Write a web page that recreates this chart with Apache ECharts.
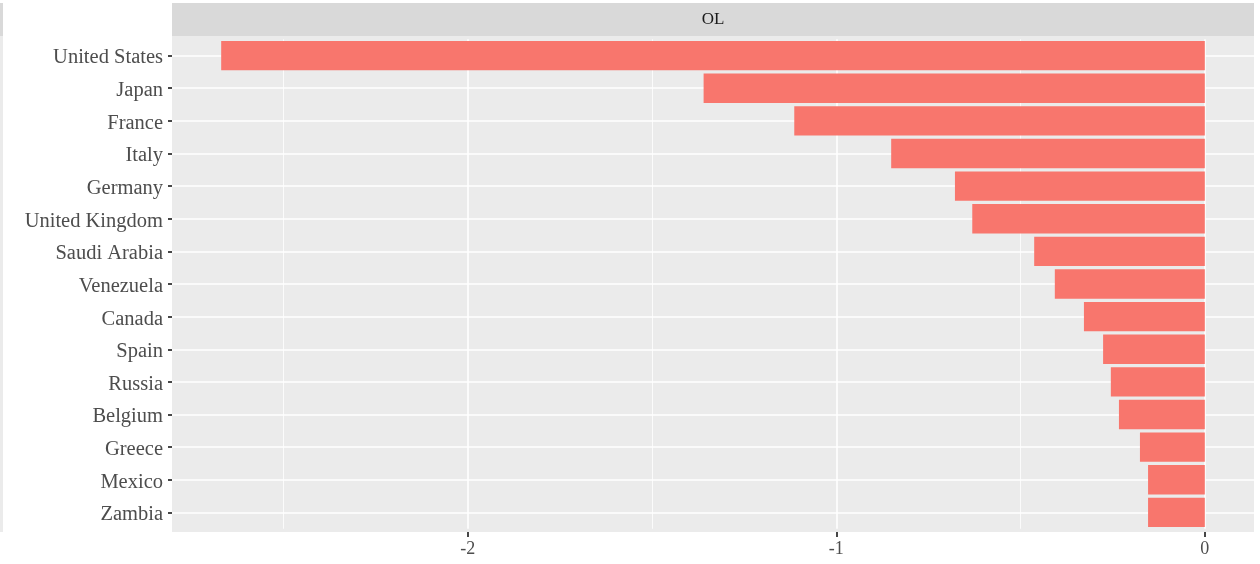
<!DOCTYPE html>
<html><head><meta charset="utf-8">
<script src="https://cdn.jsdelivr.net/npm/echarts@6/dist/echarts.min.js"></script>
<style>html,body{margin:0;padding:0;background:#fff}#c{width:1260px;height:564px}</style>
</head><body><div id="c"></div>
<script>
const categories = ['United States','Japan','France','Italy','Germany','United Kingdom','Saudi Arabia','Venezuela','Canada','Spain','Russia','Belgium','Greece','Mexico','Zambia'];
const values = [-2.669,-1.360,-1.114,-0.851,-0.678,-0.631,-0.463,-0.407,-0.328,-0.276,-0.255,-0.233,-0.176,-0.154,-0.154];
const xTicks = [-2,-1,0];
const xMinor = [-2.5,-1.5,-0.5];
const facetLabel = 'OL';

const lo = Math.min(...values, 0), hi = Math.max(...values, 0);
const pad = (hi - lo) * 0.05;
const xMin = lo - pad, xMax = hi + pad;
const FONT = 'Liberation Serif';

const PT = 36, PB = 532, PL = 172, PR = 1254;
const unit = (PB - PT) / (categories.length - 1 + 1.2);
const gTop = PT + 0.1 * unit, gBot = PB - 0.1 * unit;

const hidden = {show: true, onZero: false, lineStyle: {color: 'rgba(0,0,0,0)'}};
const chart = echarts.init(document.getElementById('c'));
chart.setOption({
  animation: false,
  backgroundColor: '#ffffff',
  grid: {left: PL, right: 1260 - PR, top: gTop, bottom: 564 - gBot, show: false, containLabel: false},
  xAxis: [{
    type: 'value', min: xMin, max: xMax, offset: PB - gBot,
    axisLine: hidden,
    axisTick: {show: true, length: 5, lineStyle: {color: '#333333', width: 1.8}, customValues: xTicks},
    axisLabel: {show: true, customValues: xTicks, color: '#4D4D4D', fontFamily: FONT, fontSize: 18, margin: 8,
      formatter: v => String(v)},
    splitLine: {show: true, lineStyle: {color: '#ffffff', width: 1.6}}
  }, {
    type: 'value', min: xMin, max: xMax, position: 'bottom',
    axisLine: {show: false, onZero: false},
    axisTick: {show: false, customValues: xMinor},
    axisLabel: {show: false, customValues: xMinor},
    splitLine: {show: true, lineStyle: {color: '#ffffff', width: 0.8}}
  }],
  yAxis: {
    type: 'category', data: categories, inverse: true,
    axisLine: hidden,
    axisTick: {show: true, alignWithLabel: true, length: 4, lineStyle: {color: '#333333', width: 1.8}},
    axisLabel: {color: '#4D4D4D', fontFamily: FONT, fontSize: 20.5, margin: 9,
      formatter: v => '{a|' + v + '}', rich: {a: {fontFamily: FONT, fontSize: 20.5, color: '#4D4D4D', padding: [5, 0, 0, 0]}}},
    splitLine: {show: true, alignWithLabel: true, lineStyle: {color: '#ffffff', width: 1.6}}
  },
  series: [{
    type: 'bar', data: values, xAxisIndex: 0,
    barCategoryGap: '10%',
    itemStyle: {color: '#F8766D'}
  }],
  graphic: [
    {type: 'rect', shape: {x: PL, y: PT, width: PR - PL, height: PB - PT}, style: {fill: '#EBEBEB'}, z: -10, silent: true},
    {type: 'rect', shape: {x: PL, y: 3, width: PR - PL, height: PT - 3}, style: {fill: '#D9D9D9'}, z: 0},
    {type: 'text', x: (PL + PR) / 2, y: 20, style: {text: facetLabel, fill: '#1A1A1A', font: '17px "Liberation Serif"', align: 'center', verticalAlign: 'middle'}, z: 1},
    {type: 'rect', shape: {x: 0, y: 3, width: 3, height: PT - 3}, style: {fill: '#D9D9D9'}, z: 0},
    {type: 'rect', shape: {x: 0, y: PT, width: 3, height: PB - PT}, style: {fill: '#EBEBEB'}, z: 0}
  ]
});
</script></body></html>
